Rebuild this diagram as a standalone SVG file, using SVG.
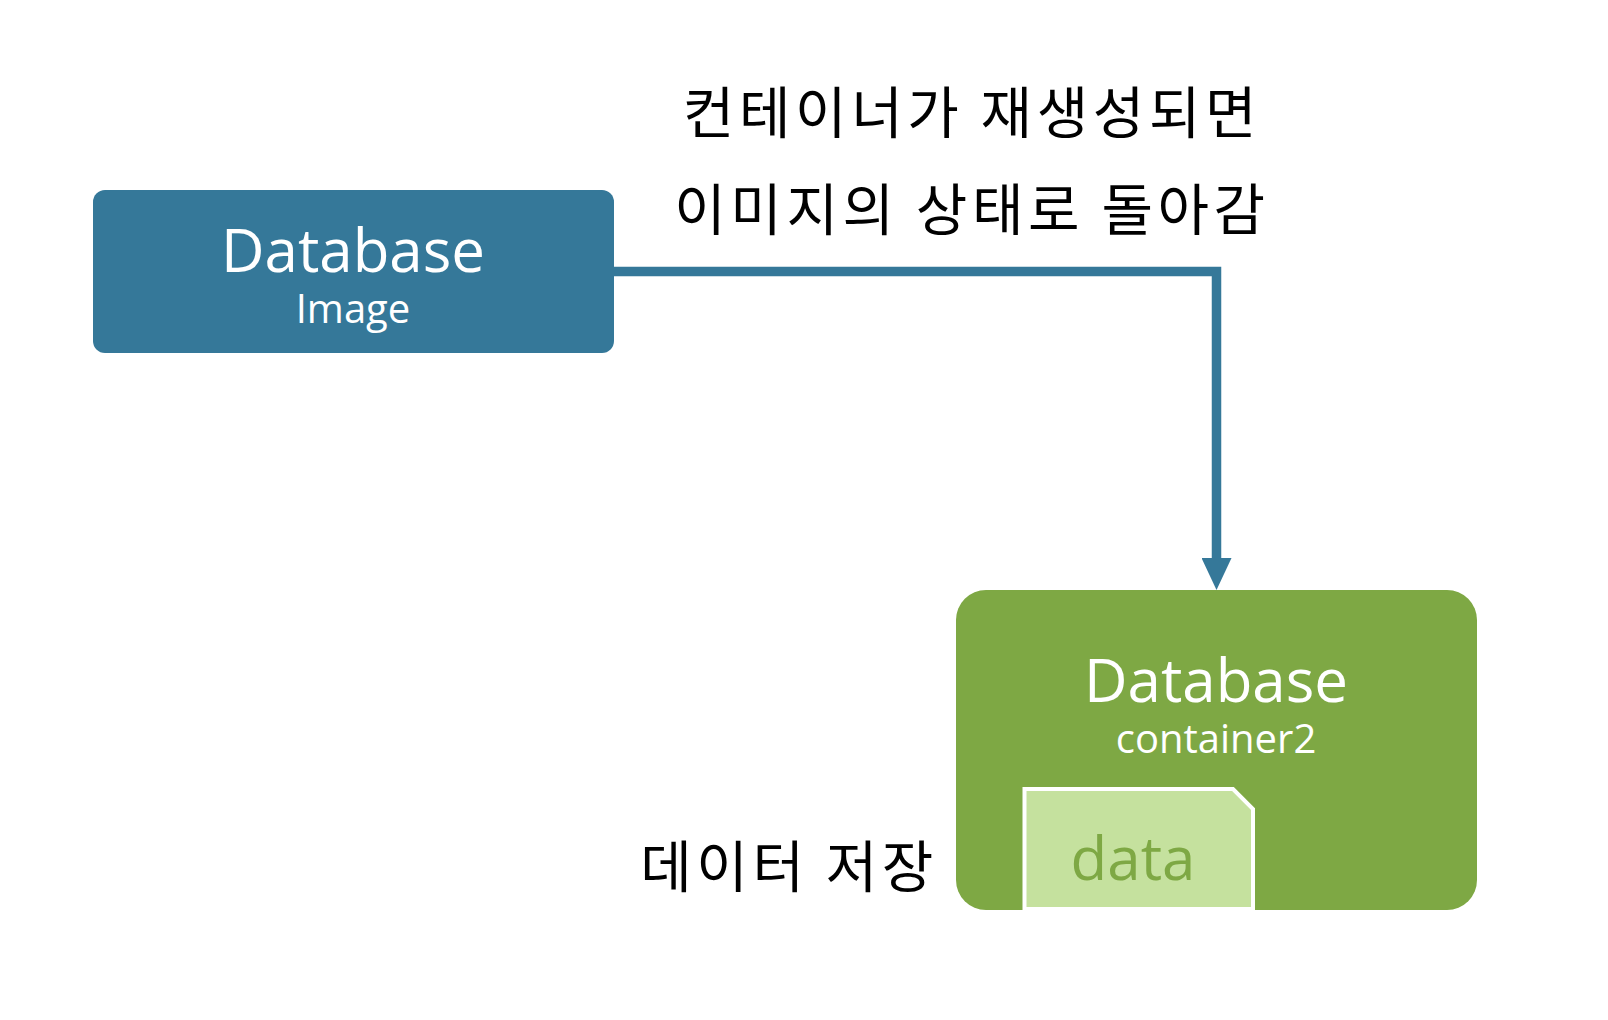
<svg xmlns="http://www.w3.org/2000/svg" width="1608" height="1020" viewBox="0 0 1608 1020">
  <style>
    .lat { font-family: "Open Sans", "Noto Sans", "DejaVu Sans", sans-serif; }
    .ko { font-family: "Noto Sans CJK KR", "Noto Sans", sans-serif; font-size: 56px; fill: #000000; letter-spacing: 4.6px; }
    .title { font-size: 60px; fill: #ffffff; text-anchor: middle; }
    .sub { font-size: 40px; fill: #ffffff; text-anchor: middle; }
  </style>
  <defs>
    <marker id="arrow" viewBox="0 0 32 30" refX="0" refY="15" markerUnits="userSpaceOnUse" markerWidth="32" markerHeight="30" orient="auto">
      <path d="M0,0 L32,15 L0,30 Z" fill="#357899"/>
    </marker>
  </defs>
  <rect width="1608" height="1020" fill="#ffffff"/>

  <g id="connectors">
    <path d="M614,271.5 H1216.5 V558" fill="none" stroke="#357899" stroke-width="9.5" marker-end="url(#arrow)"/>
  </g>

  <g id="image-node">
    <rect x="93" y="190" width="521" height="163" rx="12" fill="#357899"/>
    <text class="lat title" x="353" y="272">Database</text>
    <text class="lat sub" x="353" y="323">Image</text>
  </g>

  <g id="container-node">
    <rect x="956" y="590" width="521" height="320" rx="30" fill="#7ea844"/>
    <text class="lat title" x="1216" y="702">Database</text>
    <text class="lat sub" x="1216" y="753">container2</text>
  </g>

  <g id="data-node">
    <path d="M1024.5,789 H1233 L1253,809 V909 H1024.5 Z" fill="#c5e19e" stroke="#ffffff" stroke-width="4"/>
    <text class="lat" x="1133" y="880" font-size="60" fill="#7ea844" text-anchor="middle">data</text>
  </g>

  <g id="labels">
    <text class="ko" x="972" y="133" text-anchor="middle">컨테이너가 재생성되면</text>
    <text class="ko" x="972" y="230" text-anchor="middle">이미지의 상태로 돌아감</text>
    <text class="ko" x="938" y="887" text-anchor="end">데이터 저장</text>
  </g>
</svg>
